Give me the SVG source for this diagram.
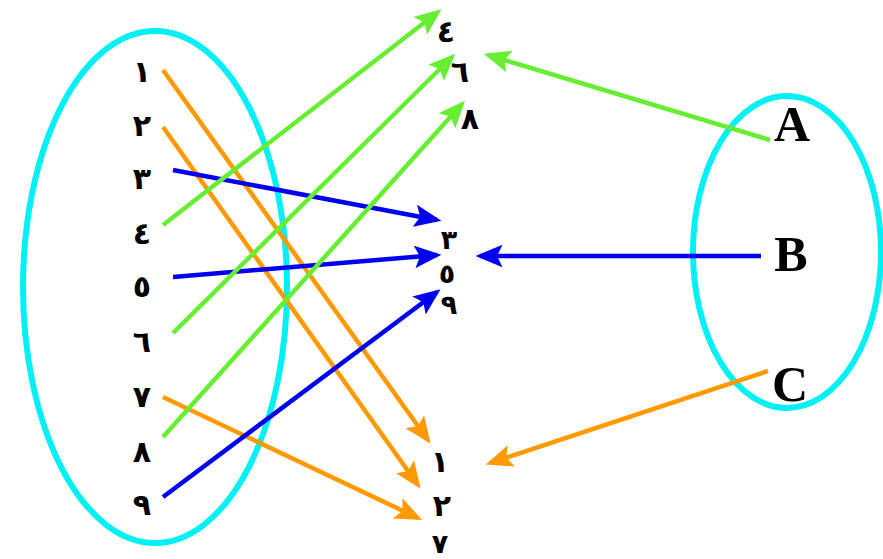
<svg xmlns="http://www.w3.org/2000/svg" width="883" height="559" viewBox="0 0 883 559">
<style>
.el{fill:none;stroke:#00f0f5;stroke-width:6}
.d{font-family:"DejaVu Sans",sans-serif;font-weight:bold;font-size:30px;fill:#000;text-anchor:middle}
.dm{font-family:"DejaVu Sans",sans-serif;font-weight:bold;font-size:27px;fill:#000;text-anchor:middle}
.l{font-family:"Liberation Serif",serif;font-weight:bold;font-size:50px;fill:#000;text-anchor:middle}
.o{stroke:#ff9900;stroke-width:4.5;fill:none}
.b{stroke:#0000ee;stroke-width:4.5;fill:none}
.g{stroke:#66ee33;stroke-width:4.5;fill:none}
</style>
<defs>
<marker id="mo" markerWidth="6" markerHeight="5" refX="5" refY="2.5" orient="auto" markerUnits="strokeWidth"><path d="M0,0L6,2.5L0,5L1.2,2.5z" fill="#ff9900"/></marker>
<marker id="mb" markerWidth="6" markerHeight="5" refX="5" refY="2.5" orient="auto" markerUnits="strokeWidth"><path d="M0,0L6,2.5L0,5L1.2,2.5z" fill="#0000ee"/></marker>
<marker id="mg" markerWidth="6" markerHeight="5" refX="5" refY="2.5" orient="auto" markerUnits="strokeWidth"><path d="M0,0L6,2.5L0,5L1.2,2.5z" fill="#66ee33"/></marker>
</defs>
<rect width="883" height="559" fill="#fff"/>
<g id="setLeft">
<ellipse class="el" cx="155" cy="287" rx="132" ry="256"/>
<text class="d" x="142" y="82">١</text>
<text class="d" x="142" y="136">٢</text>
<text class="d" x="142" y="189">٣</text>
<text class="d" x="142" y="244">٤</text>
<text class="d" x="142" y="297">٥</text>
<text class="d" x="142" y="352">٦</text>
<text class="d" x="142" y="407">٧</text>
<text class="d" x="142" y="462">٨</text>
<text class="d" x="142" y="515">٩</text>
</g>
<g id="setMiddle">
<text class="d" x="446" y="42">٤</text>
<text class="d" x="460" y="82">٦</text>
<text class="d" x="470" y="129">٨</text>
<text class="dm" x="449" y="249">٣</text>
<text class="dm" x="447" y="283">٥</text>
<text class="dm" x="449" y="314">٩</text>
<text class="d" x="440" y="472">١</text>
<text class="d" x="442" y="516">٢</text>
<text class="dm" x="440" y="553">٧</text>
</g>
<g id="setRight">
<ellipse class="el" cx="787" cy="252" rx="94" ry="156"/>
<text class="l" x="792" y="141">A</text>
<text class="l" x="791" y="271">B</text>
<text class="l" x="790" y="401">C</text>
</g>
<g id="connectors">
<line class="o" x1="163" y1="70" x2="428" y2="440" marker-end="url(#mo)"/>
<line class="o" x1="163" y1="127" x2="418" y2="485" marker-end="url(#mo)"/>
<line class="o" x1="163" y1="397" x2="418" y2="518" marker-end="url(#mo)"/>
<line class="o" x1="768" y1="371" x2="490" y2="463" marker-end="url(#mo)"/>
<line class="b" x1="173" y1="170" x2="437" y2="220" marker-end="url(#mb)"/>
<line class="b" x1="173" y1="277" x2="437" y2="255" marker-end="url(#mb)"/>
<line class="b" x1="163" y1="497" x2="437" y2="292" marker-end="url(#mb)"/>
<line class="b" x1="761" y1="256" x2="480" y2="256" marker-end="url(#mb)"/>
<line class="g" x1="163" y1="225" x2="438" y2="12" marker-end="url(#mg)"/>
<line class="g" x1="173" y1="333" x2="452" y2="57" marker-end="url(#mg)"/>
<line class="g" x1="163" y1="437" x2="462" y2="104" marker-end="url(#mg)"/>
<line class="g" x1="770" y1="140" x2="488" y2="55" marker-end="url(#mg)"/>
</g>
</svg>
